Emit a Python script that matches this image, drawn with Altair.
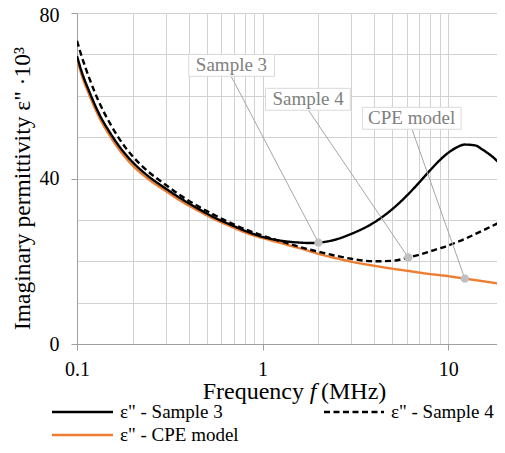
import altair as alt
import pandas as pd

FONT = "Liberation Serif"

# ---- data ----
freq_cpe = [0.1, 0.106, 0.117, 0.131, 0.152, 0.183, 0.2, 0.24, 0.3, 0.35, 0.45, 0.56, 0.7, 0.8,
            1.0, 1.14, 1.4, 1.6, 2.0, 2.5, 3.0, 4.0, 5.0, 6.0, 7.7, 10, 12.3, 15, 20]
eps_cpe = [68.8, 65.0, 60.0, 55.0, 50.0, 45.0, 43.1, 40.0, 37.0, 35.0, 32.2, 30.0, 28.1, 27.0,
           25.6, 24.9, 23.8, 23.1, 21.8, 20.7, 19.9, 18.9, 18.2, 17.7, 17.0, 16.4, 15.8, 15.25, 14.4]

freq_s3 = [0.1, 0.106, 0.117, 0.131, 0.152, 0.183, 0.2, 0.24, 0.3, 0.35, 0.45, 0.56, 0.7, 0.8,
           1.0, 1.14, 1.4, 1.6, 1.8, 2.0, 2.5, 3.0, 4.0, 5.0, 6.0, 7.0, 8.0, 9.0, 10, 11,
           12.3, 14, 15.3, 17.5, 20]
eps_s3 = [69.6, 65.8, 60.8, 55.8, 50.8, 45.8, 43.9, 40.7, 37.6, 35.6, 32.7, 30.4, 28.5, 27.4,
          25.9, 25.3, 24.7, 24.5, 24.4, 24.5, 25.3, 26.6, 29.4, 32.6, 35.9, 39.1, 42.0, 44.4, 46.2, 47.4,
          48.2, 48.0, 47.0, 45.1, 42.5]

freq_s4 = [0.1, 0.106, 0.117, 0.131, 0.152, 0.183, 0.2, 0.24, 0.3, 0.35, 0.45, 0.56, 0.7, 0.8,
           1.0, 1.14, 1.4, 1.6, 2.0, 2.5, 3.0, 4.0, 5.0, 6.1, 7.0, 8.0, 10, 12.3, 15.3, 20]
eps_s4 = [73.3, 69.5, 64.0, 58.6, 53.0, 47.4, 45.3, 41.8, 38.5, 36.3, 33.3, 31.0, 28.9, 27.8,
          26.2, 25.4, 24.2, 23.4, 22.3, 21.3, 20.6, 20.0, 20.1, 20.9, 21.6, 22.4, 23.8, 25.4, 27.4, 29.9]

series_names = ['ε" - Sample 3', 'ε" - Sample 4', 'ε" - CPE model']

# callouts (data units)
callout_text = ["Sample 3", "Sample 4", "CPE model"]
callout_pt_f = [2.0, 6.1, 12.3]
callout_pt_e = [24.5, 20.9, 15.8]
callout_txt_f = [0.68, 1.76, 6.36]
callout_txt_e = [67.4, 59.2, 54.6]
callout_box_f1 = [0.40, 1.038, 3.45]
callout_box_f2 = [1.16, 2.97, 11.75]
callout_box_e1 = [70.0, 61.8, 57.2]
callout_box_e2 = [64.7, 56.5, 51.9]
callout_lead_f = [0.679, 1.767, 6.41]
callout_lead_e = [64.6, 56.5, 51.7]

grid_f = [0.1, 0.2, 0.3, 0.4, 0.5, 0.6, 0.7, 0.8, 0.9, 1, 2, 3, 4, 5, 6, 7, 8, 9, 10, 20]
grid_e = list(range(0, 85, 5))

# ---- build tables ----
rows = []
for name, fs, es in [(series_names[0], freq_s3, eps_s3),
                     (series_names[1], freq_s4, eps_s4),
                     (series_names[2], freq_cpe, eps_cpe)]:
    for f, e in zip(fs, es):
        rows.append({"series": name, "f": f, "e": e})
df = pd.DataFrame(rows)

callouts = pd.DataFrame({
    "text": callout_text, "pf": callout_pt_f, "pe": callout_pt_e,
    "tf": callout_txt_f, "te": callout_txt_e,
    "bf1": callout_box_f1, "bf2": callout_box_f2,
    "be1": callout_box_e1, "be2": callout_box_e2,
    "lf": callout_lead_f, "le": callout_lead_e,
})

xscale = alt.Scale(type="log", domain=[0.1, 20], nice=False)
yscale = alt.Scale(domain=[0, 80], nice=False)

major_x = "datum.value == 0.1 || datum.value == 1 || datum.value == 10"
major_y = "datum.value == 0 || datum.value == 40 || datum.value == 80"

x_axis = alt.Axis(
    values=grid_f, title=None,
    labelExpr="datum.value == 0.1 ? '0.1' : (datum.value == 1 ? '1' : (datum.value == 10 ? '10' : ''))",
    grid=True, gridColor="#d2d2d2", gridWidth=1,
    domainColor="#a0a0a0", domainWidth=1,
    tickColor="#a0a0a0", tickSize=6,
    tickOpacity={"condition": {"test": major_x, "value": 1}, "value": 0},
    labelFont=FONT, labelFontSize=20, labelColor="#000000", labelPadding=9,
    labelFlush=False, labelOverlap=False,
)
y_axis = alt.Axis(
    values=grid_e, title='Imaginary permittivity ε" ·10³',
    labelExpr="(datum.value == 0 || datum.value == 40 || datum.value == 80) ? datum.label : ''",
    grid=True, gridColor="#d2d2d2", gridWidth=1,
    domainColor="#a0a0a0", domainWidth=1,
    tickColor="#a0a0a0", tickSize=6,
    tickOpacity={"condition": {"test": major_y, "value": 1}, "value": 0},
    labelFont=FONT, labelFontSize=20, labelColor="#000000", labelPadding=12,
    labelOffset={"condition": {"test": "datum.value == 80", "value": 2}, "value": 0},
    labelFlush=False, labelOverlap=False,
    titleFont=FONT, titleFontSize=23.5, titleFontWeight="normal", titleColor="#000000",
    titleX=-43, titleY=175, titleAngle=270, titleBaseline="bottom", titleAlign="center",
)

color_scale = alt.Scale(domain=series_names, range=["#000000", "#000000", "#ED7D31"])

base = alt.Chart(df)

def series_line(name, dash):
    return base.transform_filter(alt.datum.series == name).mark_line(
        interpolate="monotone", strokeWidth=2.4, strokeDash=dash, clip=True
    ).encode(
        x=alt.X("f:Q", scale=xscale, axis=x_axis),
        y=alt.Y("e:Q", scale=yscale, axis=y_axis),
        color=alt.Color("series:N", scale=color_scale, legend=None),
    )

line_cpe = series_line(series_names[2], [1, 0])
line_s3 = series_line(series_names[0], [1, 0])
line_s4 = series_line(series_names[1], [6, 3.5])

cbase = alt.Chart(callouts)
leaders = cbase.mark_rule(color="#a6a6a6", strokeWidth=1).encode(
    x=alt.X("lf:Q", scale=xscale), x2="pf:Q",
    y=alt.Y("le:Q", scale=yscale), y2="pe:Q",
)
markers = cbase.mark_circle(color="#c0c0c0", opacity=1, size=70).encode(
    x=alt.X("pf:Q", scale=xscale), y=alt.Y("pe:Q", scale=yscale),
)
boxes = cbase.mark_rect(fill="#ffffff", stroke="#d9d9d9", strokeWidth=1).encode(
    x=alt.X("bf1:Q", scale=xscale), x2="bf2:Q",
    y=alt.Y("be1:Q", scale=yscale), y2="be2:Q",
)
labels = cbase.mark_text(font=FONT, fontSize=19, color="#808080", align="center",
                         baseline="middle").encode(
    x=alt.X("tf:Q", scale=xscale), y=alt.Y("te:Q", scale=yscale), text="text:N",
)

# x axis title with italic f
one = pd.DataFrame({"k": [0]})
TY = 386
tpart1 = alt.Chart(one).mark_text(text="Frequency", font=FONT, fontSize=24, align="right",
                                  baseline="alphabetic", color="#000000").encode(
    x=alt.value(227), y=alt.value(TY))
tpart2 = alt.Chart(one).mark_text(text="f", font=FONT, fontSize=24, fontStyle="italic",
                                  align="center", baseline="alphabetic", color="#000000").encode(
    x=alt.value(236), y=alt.value(TY))
tpart3 = alt.Chart(one).mark_text(text="(MHz)", font=FONT, fontSize=24, align="left",
                                  baseline="alphabetic", color="#000000").encode(
    x=alt.value(244), y=alt.value(TY))

# manual legend
def leg_line(x1, x2, y, color, dash):
    return alt.Chart(one).mark_rule(color=color, strokeWidth=2.5, strokeDash=dash).encode(
        x=alt.value(x1), x2=alt.value(x2), y=alt.value(y))

def leg_text(x, y, txt):
    return alt.Chart(one).mark_text(text=txt, font=FONT, fontSize=19, align="left",
                                    baseline="middle", color="#000000").encode(
        x=alt.value(x), y=alt.value(y))

R1, R2 = 399, 422
legend = [
    leg_line(-25, 36, R1, "#000000", [1, 0]), leg_text(43, R1, series_names[0]),
    leg_line(247, 307, R1, "#000000", [6, 3.5]), leg_text(314, R1, series_names[1]),
    leg_line(-25, 36, R2, "#ED7D31", [1, 0]), leg_text(43, R2, series_names[2]),
]

chart = alt.layer(
    line_cpe, line_s3, line_s4, leaders, markers, boxes, labels,
    tpart1, tpart2, tpart3, *legend
).properties(
    width=427, height=331, autosize="none",
    padding={"left": 69, "top": 5, "right": -7, "bottom": 101},
).configure_view(stroke=None).configure(background="#ffffff")

chart.save("out.html", embed_options={"renderer": "svg", "actions": False})
